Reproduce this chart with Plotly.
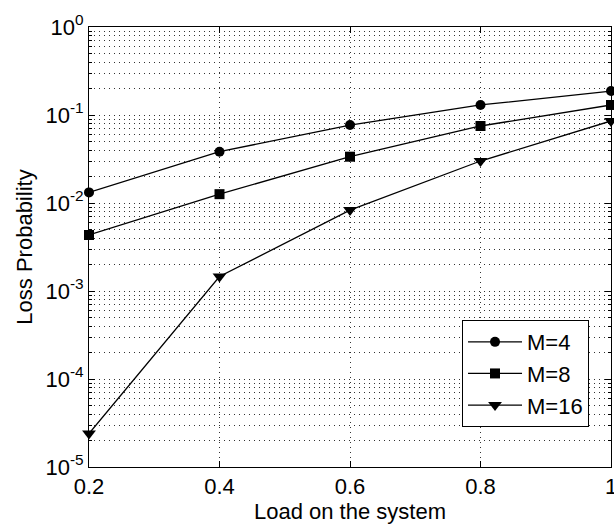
import plotly.graph_objects as go

load = [0.2, 0.4, 0.6, 0.8, 1.0]
m4 = [0.0132, 0.0383, 0.0769, 0.130, 0.187]
m8 = [0.00433, 0.0126, 0.0336, 0.075, 0.130]
m16 = [2.4e-5, 0.00146, 0.0083, 0.030, 0.0855]

series_names = ["M=4", "M=8", "M=16"]
series_vals = [m4, m8, m16]
symbols = ["circle", "square", "triangle-down"]
sizes = [10, 10, 12]

x_ticks = [0.2, 0.4, 0.6, 0.8, 1.0]
x_ticktext = ["0.2", "0.4", "0.6", "0.8", "1"]
y_ticks = [1e-5, 1e-4, 1e-3, 1e-2, 1e-1, 1e0]
y_ticktext = ["10<sup>-5</sup>", "10<sup>-4</sup>", "10<sup>-3</sup>",
              "10<sup>-2</sup>", "10<sup>-1</sup>", "10<sup>0</sup>"]
y_minor = [k * 10.0 ** e for e in range(-5, 0) for k in range(2, 10)]

FONT = "Liberation Sans, Arial, sans-serif"
GRID = "#333333"

fig = go.Figure()
for i, (name, vals) in enumerate(zip(series_names, series_vals)):
    fig.add_trace(go.Scatter(
        x=load, y=vals, name=name, mode="lines+markers",
        line=dict(color="black", width=1.3),
        marker=dict(symbol=symbols[i], size=sizes[i], color="black"),
        legendgroup=name, cliponaxis=False,
    ))

fig.update_layout(
    width=614, height=530,
    margin=dict(l=89, r=3, t=27, b=63, autoexpand=False),
    paper_bgcolor="white", plot_bgcolor="white",
    font=dict(family=FONT, size=22, color="black"),
    showlegend=True,
    legend=dict(
        x=0.7146, y=0.334, xanchor="left", yanchor="top",
        bgcolor="white", bordercolor="black", borderwidth=1,
        font=dict(size=22), tracegroupgap=0, itemwidth=54,
    ),
    xaxis=dict(
        range=[0.2, 1.0], tickvals=x_ticks, ticktext=x_ticktext,
        ticklabeloverflow="allow", automargin=False,
        showline=True, linecolor="black", linewidth=1, mirror="allticks",
        ticks="inside", ticklen=6, tickcolor="black",
        showgrid=True, gridcolor=GRID, griddash="1px,4px", gridwidth=1,
        zeroline=False,
        title=dict(text="Load on the system", standoff=3, font=dict(size=22)),
    ),
    yaxis=dict(
        type="log", range=[-5, 0], tickvals=y_ticks, ticktext=y_ticktext,
        automargin=False,
        showline=True, linecolor="black", linewidth=1, mirror="allticks",
        ticks="inside", ticklen=6, tickcolor="black",
        showgrid=True, gridcolor=GRID, griddash="1px,4px", gridwidth=1,
        minor=dict(tickmode="array", tickvals=y_minor,
                   ticks="inside", ticklen=3, tickcolor="black",
                   showgrid=True, gridcolor=GRID, griddash="1px,4px", gridwidth=1),
        zeroline=False,
        title=dict(text="Loss Probability", standoff=6, font=dict(size=22)),
    ),
)

fig.write_html("out.html")
